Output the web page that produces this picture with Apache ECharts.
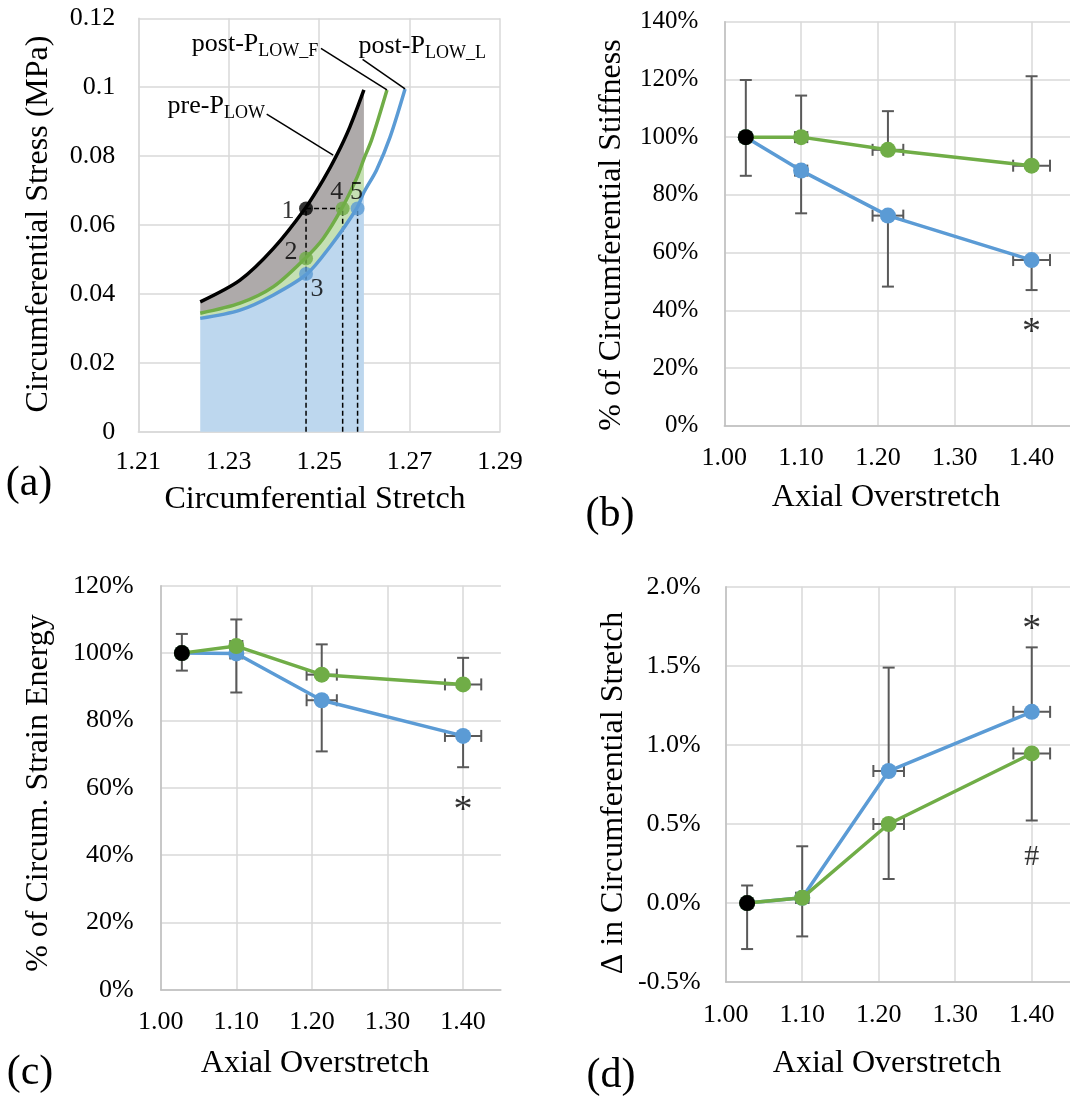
<!DOCTYPE html>
<html><head><meta charset="utf-8">
<script src="https://cdn.jsdelivr.net/npm/echarts@6/dist/echarts.min.js"></script>
<style>html,body{margin:0;padding:0;background:#fff}#c{width:1070px;height:1099px}</style>
</head><body><div id="c"></div>
<script>
// ---------- Panel (a): stress vs circumferential stretch ----------
const preLow   = [[1.2237,0.0377],[1.2325,0.0440],[1.2399,0.0532],[1.2469,0.0648],[1.2509,0.0731],[1.2539,0.0803],[1.2568,0.0885],[1.2599,0.0992]];
const postLowF = [[1.2237,0.0344],[1.2325,0.0373],[1.2399,0.0421],[1.2469,0.0503],[1.2509,0.0561],[1.2550,0.0648],[1.2583,0.0736],[1.2599,0.0792],[1.2616,0.0847],[1.2650,0.0992]];
const postLowL = [[1.2237,0.0329],[1.2325,0.0353],[1.2399,0.0397],[1.2473,0.0458],[1.2524,0.0537],[1.2583,0.0648],[1.2599,0.0695],[1.2627,0.0760],[1.2657,0.0856],[1.2690,0.0995]];
const fillEndX = 1.2599;
const keyPoints = [[1.2471,0.0648],[1.2471,0.0503],[1.2471,0.0458],[1.2552,0.0648],[1.2585,0.0648]];
const keyNames  = ['1','2','3','4','5'];
const dashLines = [[1.2471,0,1.2471,0.0648],[1.2471,0.0648,1.2552,0.0648],[1.2552,0,1.2552,0.0648],[1.2585,0,1.2585,0.0648]];
const curveNotes = [
  {main:'pre-P',  sub:'LOW',   at:[1.2380,0.0945], line:[1.2384,0.0922,1.2531,0.0803]},
  {main:'post-P', sub:'LOW_F', at:[1.2498,0.1125], line:[1.2504,0.1113,1.2650,0.0992]},
  {main:'post-P', sub:'LOW_L', at:[1.2587,0.1120], line:[1.2596,0.1081,1.2690,0.0995]}
];
const aXTicks = {min:1.21, max:1.29, step:0.02};
const aYTicks = {min:0, max:0.12, step:0.02};

// ---------- Panels (b)-(d): vs axial overstretch ----------
const baseX  = 1.028;
const axialX = [1.10, 1.213, 1.40];
const baseXErr = 0.007;
const axialXErr = [0.008, 0.020, 0.024];

// (b) % of circumferential stiffness
const stiffBase = 100, stiffBaseErr = [19.8, 13.4];          // plus, minus
const stiffGreen = [100, 95.6, 90.1], stiffGreenPlus = [14.4, 13.4, 31.0];
const stiffBlue  = [88.4, 72.8, 57.4], stiffBlueMinus = [14.8, 24.6, 10.4];
const stiffMarks = [[1.40, 34.9, '*']];

// (c) % of circum. strain energy
const energyBase = 100, energyBaseErr = [5.7, 5.2];
const energyGreen = [102.1, 93.6, 90.7], energyGreenPlus = [7.9, 9.0, 7.9];
const energyBlue  = [99.9, 86.0, 75.4],  energyBlueMinus = [11.6, 15.2, 9.3];
const energyMarks = [[1.40, 55.6, '*']];

// (d) Δ in circumferential stretch (%)
const dsBase = 0, dsBaseErr = [0.111, 0.291];
const dsGreen = [0.033, 0.500, 0.946], dsGreenMinus = [0.244, 0.348, 0.424];
const dsBlue  = [0.033, 0.835, 1.209], dsBluePlus  = [0.326, 0.654, 0.408];
const dsMarks = [[1.40, 1.777, '*'], [1.40, 0.289, '#']];

// ---------- styling ----------
const FONT = "'Liberation Serif','Times New Roman',serif";
const GRIDC = '#D9D9D9', AXISC = '#BFBFBF', ERRC = '#595959';
const BLUE = '#5B9BD5', GREEN = '#70AD47';
const keyColors = ['#000000', GREEN, BLUE, GREEN, BLUE];
const keyLabelOffsets = [[-18,3],[-15,-6],[11,15],[-6,-16],[-1,-16]];

const chart = echarts.init(document.getElementById('c'), null, {renderer:'canvas'});

function xAxisAxial(gi, margin){
  return {gridIndex:gi, type:'value', min:1.0, max:1.45, interval:0.1,
    axisLine:{onZero:false, lineStyle:{color:AXISC, width:1.5}}, axisTick:{show:false},
    splitLine:{show:true, showMaxLine:false, lineStyle:{color:GRIDC, width:1.5}},
    axisLabel:{showMaxLabel:false, fontFamily:FONT, fontSize:26, color:'#000', margin:margin,
      formatter:v=> (Math.abs(v*10-Math.round(v*10))<1e-6) ? v.toFixed(2) : ''}};
}
function yAxisPct(gi, min, max, step, margin, fs, dec){
  return {gridIndex:gi, type:'value', min:min, max:max, interval:step,
    axisLine:{show:true, onZero:false, lineStyle:{color:AXISC, width:1.5}}, axisTick:{show:false},
    splitLine:{lineStyle:{color:GRIDC, width:1.5}},
    axisLabel:{fontFamily:FONT, fontSize:fs, color:'#000', margin:margin, formatter:v=>v.toFixed(dec)+'%'}};
}

function errItems(xs, ys, plus, minus, xe){
  return xs.map((x,i)=>[x, ys[i], ys[i]-(minus?minus[i]:0), ys[i]+(plus?plus[i]:0), xe[i]]);
}
function errRender(params, api){
  const x=api.value(0), y=api.value(1), lo=api.value(2), hi=api.value(3), xe=api.value(4);
  const st={stroke:ERRC, lineWidth:2};
  const c=[];
  const pLo=api.coord([x,lo]), pHi=api.coord([x,hi]);
  c.push({type:'line', shape:{x1:pLo[0],y1:pLo[1],x2:pHi[0],y2:pHi[1]}, style:st});
  const cw=6;
  if (hi!==y) c.push({type:'line', shape:{x1:pHi[0]-cw,y1:pHi[1],x2:pHi[0]+cw,y2:pHi[1]}, style:st});
  if (lo!==y) c.push({type:'line', shape:{x1:pLo[0]-cw,y1:pLo[1],x2:pLo[0]+cw,y2:pLo[1]}, style:st});
  const pL=api.coord([x-xe,y]), pR=api.coord([x+xe,y]);
  c.push({type:'line', shape:{x1:pL[0],y1:pL[1],x2:pR[0],y2:pR[1]}, style:st});
  c.push({type:'line', shape:{x1:pL[0],y1:pL[1]-cw,x2:pL[0],y2:pL[1]+cw}, style:st});
  c.push({type:'line', shape:{x1:pR[0],y1:pR[1]-cw,x2:pR[0],y2:pR[1]+cw}, style:st});
  return {type:'group', children:c};
}

function panelSeries(gi, base, baseErr, greenErrs, blueErrs, green, blue, marks){
  const s=[];
  s.push({type:'custom', xAxisIndex:gi, yAxisIndex:gi, z:2, clip:false, silent:true,
    data: errItems(axialX, green, greenErrs[0], greenErrs[1], axialXErr)
      .concat(errItems(axialX, blue, blueErrs[0], blueErrs[1], axialXErr))
      .concat(errItems([baseX],[base],[baseErr[0]],[baseErr[1]],[baseXErr])),
    renderItem: errRender});
  s.push({type:'line', xAxisIndex:gi, yAxisIndex:gi, z:3, silent:true, symbol:'circle', symbolSize:16,
    data:[[baseX,base]].concat(axialX.map((x,i)=>[x,blue[i]])),
    itemStyle:{color:BLUE}, lineStyle:{color:BLUE,width:3.5}});
  s.push({type:'line', xAxisIndex:gi, yAxisIndex:gi, z:4, silent:true, symbol:'circle', symbolSize:16,
    data:[[baseX,base]].concat(axialX.map((x,i)=>[x,green[i]])),
    itemStyle:{color:GREEN}, lineStyle:{color:GREEN,width:3.5}});
  s.push({type:'scatter', xAxisIndex:gi, yAxisIndex:gi, z:5, silent:true, symbolSize:16,
    data:[[baseX,base]], itemStyle:{color:'#000', opacity:1}});
  s.push({type:'scatter', xAxisIndex:gi, yAxisIndex:gi, z:6, silent:true, symbolSize:0,
    data: marks.map(m=>({value:[m[0],m[1]], name:m[2],
      label:{fontSize: m[2]==='*'?38:30, offset:[0, m[2]==='*'?8:0]}})),
    label:{show:true, position:'inside', formatter:p=>p.name, fontFamily:FONT, color:'#000'}});
  return s;
}

// Panel (a) series
const upTo = arr => arr.filter(p=>p[0]<=fillEndX+1e-9);
const blueFill  = upTo(postLowL).concat([[fillEndX,0],[postLowL[0][0],0]]);
const greenFill = upTo(postLowF).concat(upTo(postLowL).slice().reverse());
const grayFill  = upTo(preLow).concat(upTo(postLowF).slice().reverse());
const fills = [[blueFill,'#BDD7EE'],[greenFill,'#C5E0B4'],[grayFill,'#AEAAAA']];

const series = [];
series.push({type:'custom', xAxisIndex:0, yAxisIndex:0, z:1, silent:true,
  data: fills.map((f,i)=>[f[0][0][0], f[0][0][1], i]),
  renderItem:(params, api)=>{
    const f=fills[api.value(2)];
    return {type:'polygon', shape:{points:f[0].map(p=>api.coord(p))}, style:{fill:f[1]}};
  }});
series.push({type:'custom', xAxisIndex:0, yAxisIndex:0, z:2, silent:true, data: dashLines,
  renderItem:(params, api)=>{
    const a=api.coord([api.value(0),api.value(1)]), b=api.coord([api.value(2),api.value(3)]);
    return {type:'line', shape:{x1:a[0],y1:a[1],x2:b[0],y2:b[1]}, style:{stroke:'#000', lineWidth:1.5, lineDash:[5,3]}};
  }});
[[preLow,'#000'],[postLowF,GREEN],[postLowL,BLUE]].forEach((c,i)=>{
  series.push({type:'line', xAxisIndex:0, yAxisIndex:0, z:3+(2-i)*0.1, silent:true, symbol:'none',
    smooth:0.3, data:c[0], lineStyle:{color:c[1], width:3.5}});
});
series.push({type:'scatter', xAxisIndex:0, yAxisIndex:0, z:5, silent:true, symbolSize:14,
  data: keyPoints.map((p,i)=>({value:p, name:keyNames[i], itemStyle:{color:keyColors[i]},
     label:{offset:keyLabelOffsets[i]}})),
  label:{show:true, position:'inside', formatter:p=>p.name, fontFamily:FONT, fontSize:26, color:'#000'}});
series.push({type:'custom', xAxisIndex:0, yAxisIndex:0, z:6, silent:true, clip:false,
  data: curveNotes.map((n,i)=>[n.at[0], n.at[1], i]),
  renderItem:(params, api)=>{
    const n=curveNotes[api.value(2)];
    const p=api.coord(n.at), a=api.coord([n.line[0],n.line[1]]), b=api.coord([n.line[2],n.line[3]]);
    const right = api.value(2)!==2;
    return {type:'group', children:[
      {type:'line', shape:{x1:a[0],y1:a[1],x2:b[0],y2:b[1]}, style:{stroke:'#000', lineWidth:1.5}},
      {type:'text', x:p[0], y:p[1], style:{text:'{m|'+n.main+'}{s|'+n.sub+'}',
        align: right?'right':'left', textAlign: right?'right':'left', verticalAlign:'middle', textVerticalAlign:'middle',
        rich:{m:{fontFamily:FONT, fontSize:26, lineHeight:32, fill:'#000', color:'#000'},
              s:{fontFamily:FONT, fontSize:18, lineHeight:32, verticalAlign:'bottom', fill:'#000', color:'#000'}}}}
    ]};
  }});

series.push(...panelSeries(1, stiffBase, stiffBaseErr, [stiffGreenPlus, null], [null, stiffBlueMinus], stiffGreen, stiffBlue, stiffMarks));
series.push(...panelSeries(2, energyBase, energyBaseErr, [energyGreenPlus, null], [null, energyBlueMinus], energyGreen, energyBlue, energyMarks));
series.push(...panelSeries(3, dsBase, dsBaseErr, [null, dsGreenMinus], [dsBluePlus, null], dsGreen, dsBlue, dsMarks));

function txt(text, x, y, size, rot){
  return {type:'text', x:x, y:y, rotation:rot||0, silent:true,
    style:{text:text, font: size+'px '+FONT, fill:'#000', align:'center', textAlign:'center', verticalAlign:'middle', textVerticalAlign:'middle'}};
}

const option = {
  backgroundColor:'#fff',
  animation:false,
  grid:[
    {left:138.3, top:18.3, width:361.7, height:413.4},
    {left:724.3, top:21.7, width:352.4, height:404},
    {left:160.7, top:585.8, width:340.2, height:403.9},
    {left:725.7, top:586.8, width:351.4, height:395.3}
  ],
  xAxis:[
    {gridIndex:0, type:'value', min:aXTicks.min, max:aXTicks.max, interval:aXTicks.step,
      axisLine:{onZero:false, lineStyle:{color:GRIDC,width:1.5}}, axisTick:{show:false},
      splitLine:{lineStyle:{color:GRIDC,width:1.5}},
      axisLabel:{fontFamily:FONT, fontSize:26, color:'#000', margin:17, formatter:v=>v.toFixed(2)}},
    xAxisAxial(1,19), xAxisAxial(2,19), xAxisAxial(3,20)
  ],
  yAxis:[
    {gridIndex:0, type:'value', min:aYTicks.min, max:aYTicks.max, interval:aYTicks.step,
      axisLine:{show:true, onZero:false, lineStyle:{color:GRIDC,width:1.5}}, axisTick:{show:false},
      splitLine:{lineStyle:{color:GRIDC,width:1.5}},
      axisLabel:{fontFamily:FONT, fontSize:26, color:'#000', margin:23}},
    yAxisPct(1, 0, 140, 20, 26, 25, 0),
    yAxisPct(2, 0, 120, 20, 27, 26, 0),
    yAxisPct(3, -0.5, 2.0, 0.5, 25, 26, 1)
  ],
  series: series,
  graphic:[
    txt('Circumferential Stress (MPa)', 39, 224, 32, Math.PI/2),
    txt('Circumferential Stretch', 315, 500, 32),
    txt('(a)', 29, 484, 42),
    txt('% of Circumferential Stiffness', 612, 235, 32, Math.PI/2),
    txt('Axial Overstretch', 886, 498, 32),
    txt('(b)', 610, 515, 42),
    txt('% of Circum. Strain Energy', 39, 793, 32, Math.PI/2),
    txt('Axial Overstretch', 315, 1064, 32),
    txt('(c)', 30, 1073, 42),
    txt('\u0394 in Circumferential Stretch', 614, 793, 32, Math.PI/2),
    txt('Axial Overstretch', 887, 1064, 32),
    txt('(d)', 611, 1076, 42)
  ]
};
chart.setOption(option);
</script></body></html>
